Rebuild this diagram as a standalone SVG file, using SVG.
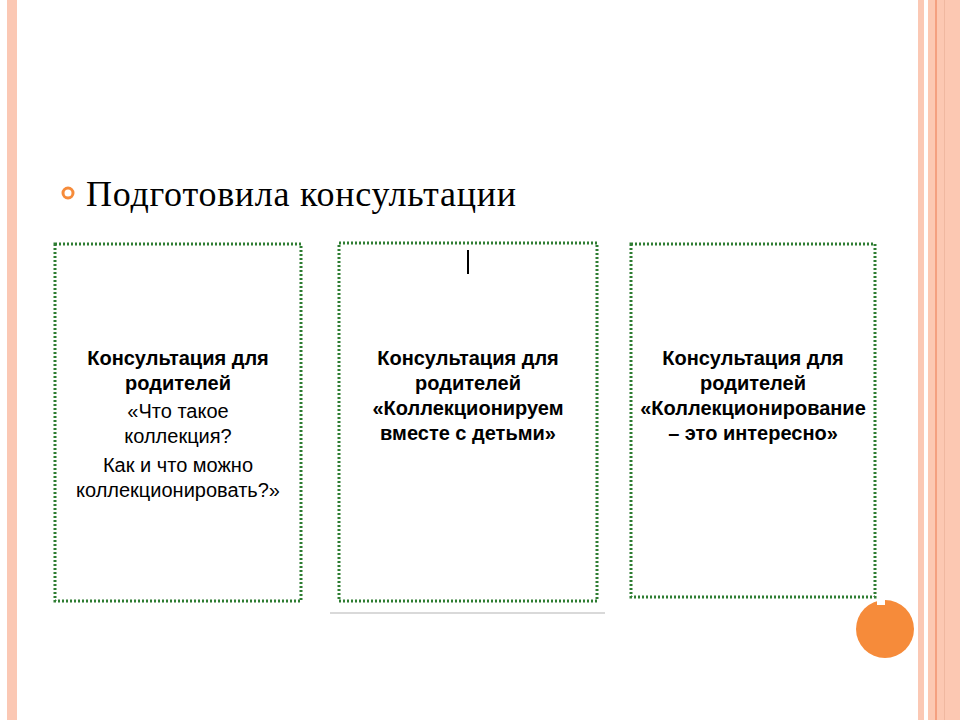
<svg xmlns="http://www.w3.org/2000/svg" width="960" height="720" viewBox="0 0 960 720">
<style>
.box{fill:#fff;stroke:#2e7d32;stroke-width:3;stroke-dasharray:2 2}
.b{font-family:"Liberation Sans",Arial,sans-serif;font-weight:bold;font-size:20px;fill:#000;text-anchor:middle}
.n{font-family:"Liberation Sans",Arial,sans-serif;font-size:20px;fill:#000;text-anchor:middle}
</style>
<rect width="960" height="720" fill="#fff"/>
<rect x="7" y="0" width="10" height="720" fill="#fbc8b4"/>
<rect x="918" y="0" width="6" height="720" fill="#fbc8b4"/>
<rect x="928" y="0" width="32" height="720" fill="#fcc8b2"/>
<rect x="935" y="0" width="2" height="720" fill="#f4a080"/>
<rect x="944" y="0" width="1" height="720" fill="#f0b8a0"/>
<g id="title">
<circle cx="68" cy="193" r="5" fill="none" stroke="#f68b3a" stroke-width="3"/>
<text x="86" y="206" font-family="Liberation Serif,serif" font-size="36" textLength="430" fill="#000">Подготовила консультации</text>
</g>
<g id="box1">
<rect class="box" x="55" y="244" width="246" height="357"/>
<text class="b" x="178" y="365">Консультация для</text>
<text class="b" x="178" y="390">родителей</text>
<text class="n" x="178" y="418">«Что такое</text>
<text class="n" x="178" y="443">коллекция?</text>
<text class="n" x="178" y="472">Как и что можно</text>
<text class="n" x="178" y="497">коллекционировать?»</text>
</g>
<g id="box2">
<rect class="box" x="339" y="243" width="258" height="358"/>
<line x1="468" y1="250" x2="468" y2="274" stroke="#000" stroke-width="2"/>
<line x1="330" y1="613" x2="605" y2="613" stroke="#ccc" stroke-width="1.5"/>
<text class="b" x="468" y="365">Консультация для</text>
<text class="b" x="468" y="390">родителей</text>
<text class="b" x="468" y="415">«Коллекционируем</text>
<text class="b" x="468" y="440">вместе с детьми»</text>
</g>
<g id="box3">
<rect class="box" x="631" y="244" width="244" height="353"/>
<text class="b" x="753" y="365">Консультация для</text>
<text class="b" x="753" y="390">родителей</text>
<text class="b" x="753" y="415">«Коллекционирование</text>
<text class="b" x="753" y="440">– это интересно»</text>
</g>
<g id="dot">
<circle cx="885" cy="629" r="29" fill="#f68b3a"/>
<rect x="877" y="598" width="8" height="7" fill="#fff"/>
</g>
</svg>
